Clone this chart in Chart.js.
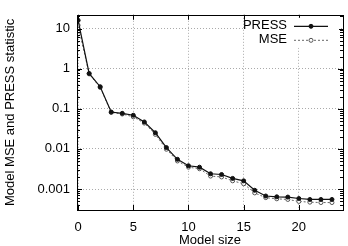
<!DOCTYPE html>
<html>
<head>
<meta charset="utf-8">
<script src="https://cdn.jsdelivr.net/npm/chart.js@4/dist/chart.umd.min.js"></script>
<style>
  html, body { margin: 0; padding: 0; background: #fff; }
  #wrap { width: 348px; height: 246px; position: relative; }
</style>
</head>
<body>
<div id="wrap"><canvas id="chart"></canvas></div>
<script>
// --- Data ---
const modelSize = [0, 1, 2, 3, 4, 5, 6, 7, 8, 9, 10, 11, 12, 13, 14, 15, 16, 17, 18, 19, 20, 21, 22, 23];
const pressValues = [16, 0.76, 0.355, 0.083, 0.077, 0.069, 0.047, 0.0253, 0.0108, 0.0055, 0.0038, 0.0035,
  0.0024, 0.0023, 0.00184, 0.0016, 0.00093, 0.00067, 0.00064, 0.00063, 0.00058, 0.00055, 0.00055, 0.00055];
const mseValues = [12, 0.74, 0.34, 0.081, 0.074, 0.063, 0.044, 0.023, 0.0098, 0.0050, 0.0035, 0.0032,
  0.0021, 0.0020, 0.0016, 0.00135, 0.00080, 0.00061, 0.00057, 0.00055, 0.00049, 0.00047, 0.00046, 0.00046];
const xTickValues = [0, 5, 10, 15, 20];
const yTickValues = [0.001, 0.01, 0.1, 1, 10];
const seriesNames = ['PRESS', 'MSE'];

const FONT = "'Liberation Sans', Arial, sans-serif";

// --- Helpers ---
function toPoints(values) {
  return values.map((v, i) => ({ x: modelSize[i], y: v }));
}

function minorLogTicks(min, max) {
  const out = [];
  for (let e = Math.floor(Math.log10(min)); e <= Math.ceil(Math.log10(max)); e++) {
    for (let m = 2; m <= 9; m++) {
      const v = m * Math.pow(10, e);
      if (v > min && v < max) out.push(v);
    }
  }
  return out;
}

// frame, inward ticks and the legend, gnuplot style
const framePlugin = {
  id: 'frame',
  afterDatasetsDraw(chart) {
    const { ctx, chartArea: a, scales } = chart;
    const xs = scales.x, ys = scales.y;
    ctx.save();
    ctx.strokeStyle = '#000';
    ctx.lineWidth = 1;
    ctx.beginPath();
    // major x ticks top and bottom
    xTickValues.forEach(v => {
      const px = Math.round(xs.getPixelForValue(v)) + 0.5;
      ctx.moveTo(px, a.bottom); ctx.lineTo(px, a.bottom - 5);
      ctx.moveTo(px, a.top); ctx.lineTo(px, a.top + 5);
    });
    // major y ticks left and right
    yTickValues.forEach(v => {
      const py = Math.round(ys.getPixelForValue(v)) + 0.5;
      ctx.moveTo(a.left, py); ctx.lineTo(a.left + 5, py);
      ctx.moveTo(a.right, py); ctx.lineTo(a.right - 5, py);
    });
    // minor y ticks
    minorLogTicks(ys.min, ys.max).forEach(v => {
      const py = Math.round(ys.getPixelForValue(v)) + 0.5;
      ctx.moveTo(a.left, py); ctx.lineTo(a.left + 3, py);
      ctx.moveTo(a.right, py); ctx.lineTo(a.right - 3, py);
    });
    ctx.stroke();
    ctx.strokeRect(Math.round(a.left) + 0.5, Math.round(a.top) + 0.5,
      Math.round(a.right - a.left), Math.round(a.bottom - a.top));

    // legend: text right-aligned, line sample with marker to its right
    ctx.fillStyle = '#fff';
    ctx.fillRect(a.right - 98, a.top + 3, 94, 30);
    ctx.font = '13px ' + FONT;
    ctx.textAlign = 'right';
    ctx.textBaseline = 'middle';
    chart.data.datasets.forEach((ds, i) => {
      const y = a.top + 11 + i * 14;
      const x0 = a.right - 49, x1 = a.right - 15, xm = (x0 + x1) / 2;
      ctx.fillStyle = '#000';
      ctx.fillText(ds.label, a.right - 56, y);
      ctx.strokeStyle = ds.borderColor;
      ctx.lineWidth = ds.borderWidth;
      ctx.setLineDash(ds.borderDash || []);
      ctx.beginPath();
      ctx.moveTo(x0, y + 0.5); ctx.lineTo(x1, y + 0.5);
      ctx.stroke();
      ctx.setLineDash([]);
      ctx.beginPath();
      ctx.arc(xm, y + 0.5, ds.pointRadius, 0, Math.PI * 2);
      ctx.fillStyle = ds.pointBackgroundColor;
      ctx.fill();
      ctx.strokeStyle = ds.pointBorderColor;
      ctx.lineWidth = ds.pointBorderWidth;
      ctx.stroke();
    });
    ctx.restore();
  }
};

const chart = new Chart(document.getElementById('chart'), {
  type: 'line',
  data: {
    datasets: [
      {
        label: seriesNames[0],
        data: toPoints(pressValues),
        borderColor: '#111',
        borderWidth: 1.2,
        pointRadius: 2,
        pointBackgroundColor: '#111',
        pointBorderColor: '#111',
        pointBorderWidth: 1,
        tension: 0
      },
      {
        label: seriesNames[1],
        data: toPoints(mseValues),
        borderColor: '#666',
        borderWidth: 1,
        borderDash: [2, 2],
        pointRadius: 2,
        pointBackgroundColor: '#fff',
        pointBorderColor: '#555',
        pointBorderWidth: 1,
        tension: 0
      }
    ]
  },
  options: {
    responsive: true,
    maintainAspectRatio: false,
    animation: false,
    events: [],
    layout: { padding: { top: 5, right: 5, left: 0, bottom: 0 } },
    plugins: { legend: { display: false }, tooltip: { enabled: false } },
    scales: {
      x: {
        type: 'linear',
        min: -0.1,
        max: 24,
        afterBuildTicks: s => { s.ticks = xTickValues.map(v => ({ value: v })); },
        afterFit: s => { s.height = 36; },
        grid: { color: '#aaa', lineWidth: 1, drawTicks: false },
        border: { display: false, dash: [1, 2] },
        ticks: { color: '#000', font: { family: FONT, size: 13 }, padding: 10, maxRotation: 0 },
        title: { display: true, text: 'Model size', color: '#000', font: { family: FONT, size: 13 }, padding: { top: 0, bottom: -2 } }
      },
      y: {
        type: 'logarithmic',
        min: 0.0003,
        max: 22,
        afterBuildTicks: s => { s.ticks = yTickValues.map(v => ({ value: v })); },
        afterFit: s => { s.width = 77; },
        grid: { color: '#aaa', lineWidth: 1, drawTicks: false },
        border: { display: false, dash: [1, 2] },
        ticks: { color: '#000', font: { family: FONT, size: 13 }, padding: 7, callback: v => String(v) },
        title: { display: true, text: 'Model MSE and PRESS statistic', color: '#000', font: { family: FONT, size: 13 }, padding: { top: 3, bottom: 0 } }
      }
    }
  },
  plugins: [framePlugin]
});
</script>
</body>
</html>
